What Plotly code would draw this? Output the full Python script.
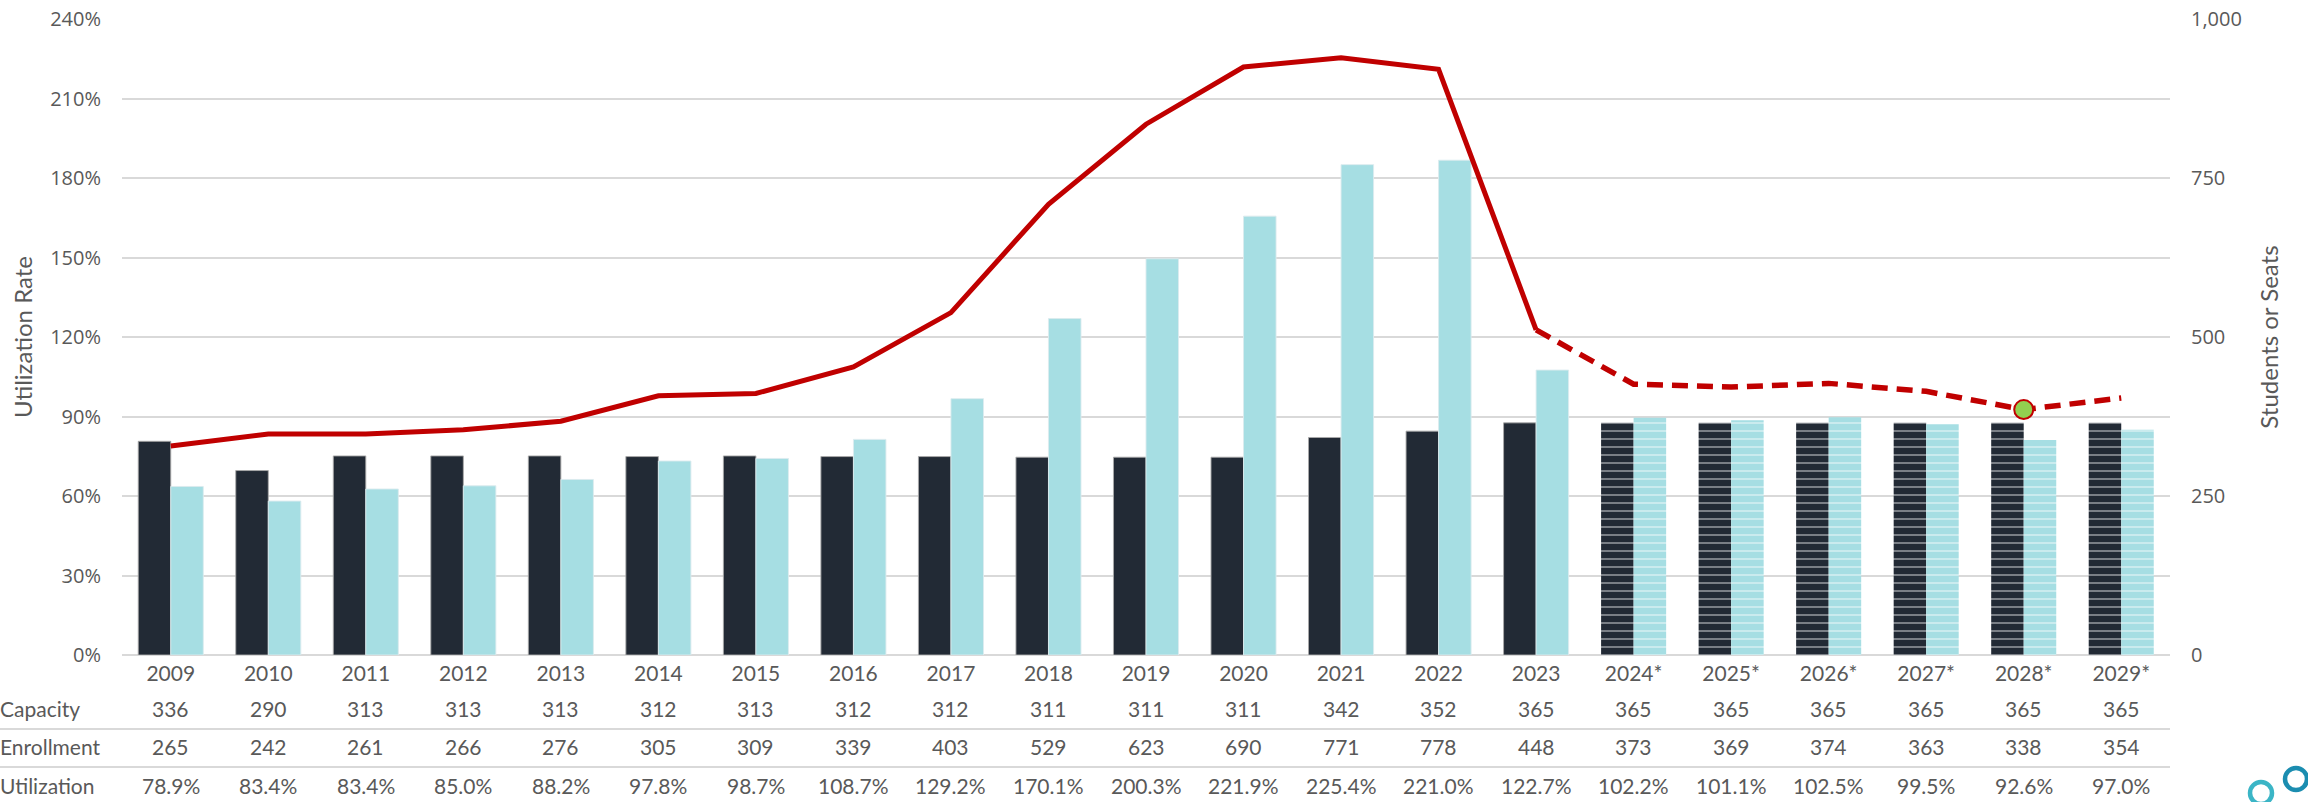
import plotly.graph_objects as go

years = ["2009", "2010", "2011", "2012", "2013", "2014", "2015", "2016", "2017", "2018",
         "2019", "2020", "2021", "2022", "2023", "2024*", "2025*", "2026*", "2027*", "2028*", "2029*"]
capacity = [336, 290, 313, 313, 313, 312, 313, 312, 312, 311, 311, 311, 342, 352, 365,
            365, 365, 365, 365, 365, 365]
enrollment = [265, 242, 261, 266, 276, 305, 309, 339, 403, 529, 623, 690, 771, 778, 448,
              373, 369, 374, 363, 338, 354]
utilization = [78.9, 83.4, 83.4, 85.0, 88.2, 97.8, 98.7, 108.7, 129.2, 170.1, 200.3, 221.9,
               225.4, 221.0, 122.7, 102.2, 101.1, 102.5, 99.5, 92.6, 97.0]
n_actual = 15          # 2009-2023 actual, 2024*-2029* projected
highlight_year = "2028*"

W, H = 2308, 802
L, R, T, B = 122, 2170, 19, 655   # plot area in px

def px_x(p):
    return (p - L) / (R - L)

def px_y(p):
    return (B - p) / (B - T)

DARK = "#222a35"
LIGHT = "#a6dee3"
RED = "#c00000"
GRID = "#d9d9d9"
TXT = "#595959"

n = len(years)
proj = [i >= n_actual for i in range(n)]
pattern_shape = ["-" if p else "" for p in proj]
edge_w = [0 if p else 1 for p in proj]

fig = go.Figure()

fig.add_trace(go.Bar(
    x=years, y=capacity, name="Capacity", yaxis="y",
    marker=dict(color=DARK,
                line=dict(color="rgba(170,170,170,0.9)", width=edge_w),
                pattern=dict(shape=pattern_shape, fillmode="overlay", fgcolor="white",
                             bgcolor=DARK, size=8, solidity=0.2)),
))
fig.add_trace(go.Bar(
    x=years, y=enrollment, name="Enrollment", yaxis="y",
    marker=dict(color=LIGHT,
                line=dict(color="rgba(220,235,238,0.9)", width=edge_w),
                pattern=dict(shape=pattern_shape, fillmode="overlay", fgcolor="white",
                             bgcolor=LIGHT, size=8, solidity=0.2)),
))

util_frac = [u / 100 for u in utilization]
fig.add_trace(go.Scatter(
    x=years[:n_actual], y=util_frac[:n_actual], yaxis="y2", mode="lines",
    line=dict(color=RED, width=5), name="Utilization",
))
fig.add_trace(go.Scatter(
    x=years[n_actual - 1:], y=util_frac[n_actual - 1:], yaxis="y2", mode="lines",
    line=dict(color=RED, width=5.5, dash="16px,9px"), name="Utilization (projected)",
))
hi = years.index(highlight_year)
fig.add_trace(go.Scatter(
    x=[years[hi]], y=[util_frac[hi]], yaxis="y2", mode="markers",
    marker=dict(color="#92d050", size=19, line=dict(color=RED, width=2)),
    name="Highlight",
))

# table rows under the axis
row_labels = ["Capacity", "Enrollment", "Utilization"]
row_values = [[str(v) for v in capacity],
              [str(v) for v in enrollment],
              [f"{u:.1f}%" for u in utilization]]
row_ys = [708, 746, 785]
ann = []
for lab, vals, yy in zip(row_labels, row_values, row_ys):
    ann.append(dict(x=px_x(-2), y=px_y(yy), xref="paper", yref="paper", text=lab,
                    showarrow=False, xanchor="left", yanchor="middle",
                    font=dict(family="Lato", size=21, color=TXT)))
    for i, v in enumerate(vals):
        ann.append(dict(x=i, y=px_y(yy), xref="x", yref="paper", text=v,
                        showarrow=False, xanchor="center", yanchor="middle",
                        font=dict(family="Lato", size=21, color=TXT)))

shapes = []
for yy in [729, 767]:
    shapes.append(dict(type="line", xref="paper", yref="paper", x0=px_x(0), x1=px_x(R),
                       y0=px_y(yy), y1=px_y(yy), line=dict(color=GRID, width=2)))
# partial logo rings at bottom right
for cx, cy, col in [(2261, 793, "#3bb5c6"), (2296, 779, "#1b8db0")]:
    shapes.append(dict(type="circle", xref="paper", yref="paper",
                       x0=px_x(cx - 11), x1=px_x(cx + 11), y0=px_y(cy + 11), y1=px_y(cy - 11),
                       line=dict(color=col, width=4.5)))

fig.update_layout(
    width=W, height=H,
    margin=dict(l=L, r=W - R, t=T, b=H - B, autoexpand=False),
    paper_bgcolor="white", plot_bgcolor="white",
    barmode="group", bargap=0.333, bargroupgap=0,
    showlegend=False,
    annotations=ann, shapes=shapes,
    xaxis=dict(type="category", categoryorder="array", categoryarray=years,
               range=[-0.5, n - 0.5], autorange=False,
               showgrid=False, showline=False, ticks="", zeroline=False,
               tickfont=dict(family="Lato", size=21, color=TXT), ticklabelstandoff=4,
               automargin=False),
    yaxis=dict(side="right", range=[0, 1000], tickvals=[0, 250, 500, 750, 1000],
               tickformat=",d", showgrid=False, zeroline=False, showline=False, ticks="",
               tickfont=dict(family="Open Sans", size=20, color=TXT), ticklabelstandoff=20,
               title=dict(text="Students or Seats", font=dict(family="Lato", size=24, color=TXT),
                          standoff=20),
               automargin=False),
    yaxis2=dict(side="left", overlaying="y", range=[0, 2.4], dtick=0.3, tick0=0,
                tickformat=".0%", showgrid=True, gridcolor=GRID, gridwidth=1.5,
                zeroline=True, zerolinecolor=GRID, zerolinewidth=2, showline=False, ticks="",
                tickfont=dict(family="Open Sans", size=20, color=TXT), ticklabelstandoff=20,
                title=dict(text="Utilization Rate", font=dict(family="Lato", size=24, color=TXT),
                           standoff=10),
                automargin=False),
)

fig.write_html("out.html", config={"displayModeBar": False},
               post_script="document.body.style.margin='0';document.body.style.overflow='hidden';")
